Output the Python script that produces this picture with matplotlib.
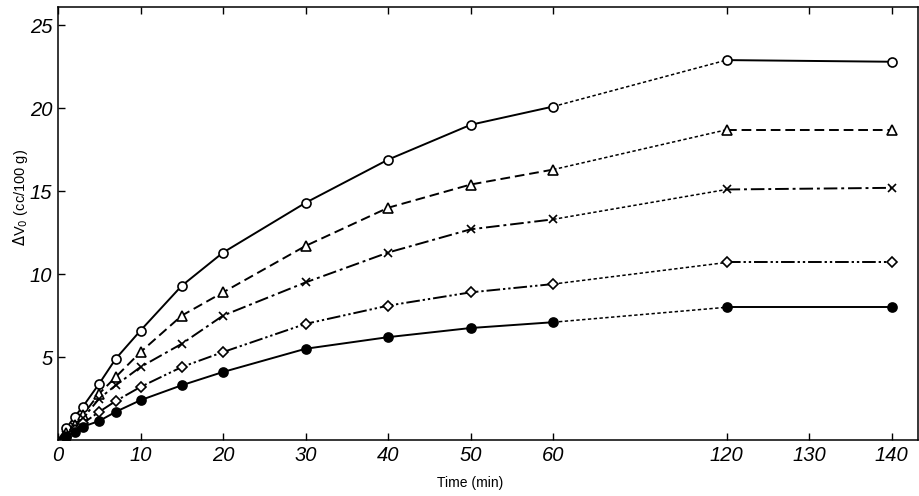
import numpy as np
import matplotlib
matplotlib.use("Agg")
import matplotlib.pyplot as plt

# ---- data ----
time = [0, 1, 2, 3, 5, 7, 10, 15, 20, 30, 40, 50, 60, 120, 140]
circle = [0, 0.7, 1.4, 2.0, 3.4, 4.9, 6.6, 9.3, 11.3, 14.3, 16.9, 19.0, 20.1, 22.9, 22.8]
triangle = [0, 0.4, 0.9, 1.5, 2.8, 3.8, 5.3, 7.5, 8.9, 11.7, 14.0, 15.4, 16.3, 18.7, 18.7]
cross = [0, 0.3, 0.8, 1.3, 2.5, 3.3, 4.4, 5.8, 7.5, 9.5, 11.3, 12.7, 13.3, 15.1, 15.2]
diamond = [0, 0.2, 0.6, 1.0, 1.7, 2.35, 3.2, 4.4, 5.3, 7.0, 8.1, 8.9, 9.4, 10.7, 10.7]
filled = [0, 0.2, 0.5, 0.8, 1.15, 1.7, 2.4, 3.3, 4.1, 5.5, 6.2, 6.75, 7.1, 8.0, 8.0]

xticks = [0, 10, 20, 30, 40, 50, 60, 120, 130, 140]
yticks = [5, 10, 15, 20, 25]

# ---- broken time scale (60..120 compressed) ----
def fwd(x):
    x = np.asarray(x, dtype=float)
    return np.where(x <= 60, x, np.where(x >= 120, x - 39, 60 + (x - 60) * 21.0 / 60.0))

def inv(u):
    u = np.asarray(u, dtype=float)
    return np.where(u <= 60, u, np.where(u >= 81, u + 39, 60 + (u - 60) * 60.0 / 21.0))

plt.rcParams['font.family'] = ['Liberation Sans', 'DejaVu Sans']

fig = plt.figure(figsize=(9.2, 4.96), dpi=100)
ax = fig.add_axes([58 / 920, 56 / 496, 860 / 920, 433 / 496])
ax.set_xscale('function', functions=(fwd, inv))

series = [
    (circle, 'o', 'white', '-', 6.5),
    (triangle, '^', 'white', (0, (5, 2.5)), 7),
    (cross, 'x', 'none', (0, (7, 2, 1.5, 2)), 5.5),
    (diamond, 'D', 'white', (0, (7, 1.5, 1.2, 1.5, 1.2, 1.5)), 5.5),
    (filled, 'o', 'black', '-', 6.5),
]

t = np.array(time, dtype=float)
i60 = time.index(60)
i120 = time.index(120)
for vals, mk, fc, ls, ms in series:
    v = np.array(vals, dtype=float)
    ax.plot(t[:i60 + 1], v[:i60 + 1], color='black', lw=1.4, ls=ls, zorder=2)
    ax.plot(t[i60:i120 + 1], v[i60:i120 + 1], color='black', lw=1.1,
            ls=(0, (2.2, 1.6)), zorder=2)
    ax.plot(t[i120:], v[i120:], color='black', lw=1.4, ls=ls, zorder=2)
    ax.plot(t[1:], v[1:], ls='none', marker=mk, ms=ms, mfc=fc, mec='black',
            mew=1.2, zorder=3)

ax.set_xlim(0, 143.2)
ax.set_ylim(0, 26.1)
ax.set_xticks(xticks)
ax.set_xticklabels([str(x) for x in xticks])
ax.set_yticks(yticks)
ax.set_yticklabels([str(y) for y in yticks])
ax.xaxis.set_minor_locator(matplotlib.ticker.NullLocator())

ax.tick_params(direction='in', length=5, width=1.0, labelsize=14.5, top=True,
               right=False, pad=4)
for lab in ax.get_xticklabels() + ax.get_yticklabels():
    lab.set_fontstyle('italic')
for sp in ax.spines.values():
    sp.set_linewidth(1.1)

fig.text(470 / 920, 1 - 483 / 496, 'Time (min)', ha='center', va='center',
         fontsize=10)
fig.text(21 / 920, 1 - 197 / 496, r'$\Delta$V$_0$ (cc/100 g)', ha='center',
         va='center', rotation=90, fontsize=10.5)

fig.savefig('out.png', dpi=100, facecolor='white')
